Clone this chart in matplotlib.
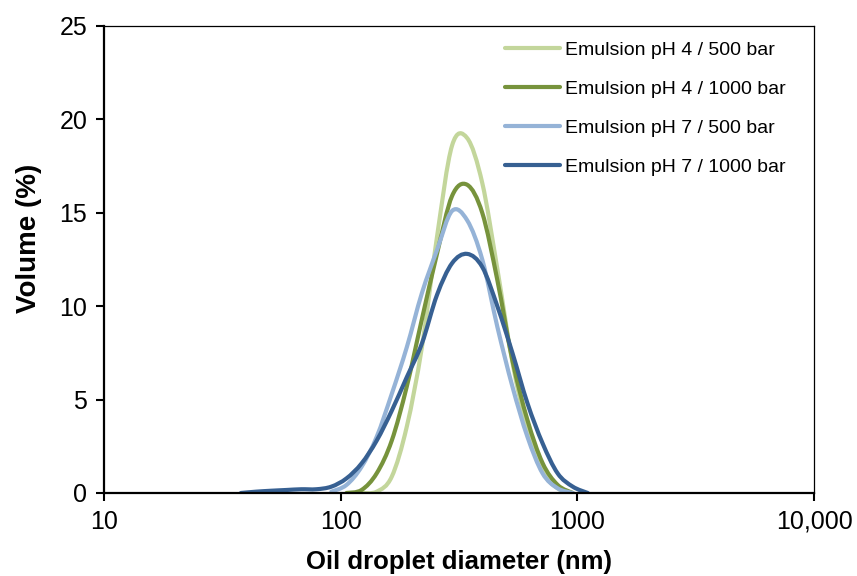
import matplotlib
matplotlib.use("Agg")
import matplotlib.pyplot as plt
import numpy as np
from matplotlib.path import Path
from matplotlib.patches import PathPatch
from matplotlib.lines import Line2D

plt.rcParams['font.family'] = ['Liberation Sans', 'DejaVu Sans']

# Zetasizer size bins (nm)
diam = [37.84, 43.82, 50.75, 58.77, 68.06, 78.82, 91.28, 105.7, 122.4, 141.8,
        164.2, 190.1, 220.2, 255.0, 295.3, 342.0, 396.1, 458.7, 531.2, 615.1,
        712.4, 825.0, 955.4, 1106]

# volume (%) per bin
ph4_500 = [None, None, None, None, None, None, None, None, 0.0, 0.07,
           0.87, 3.55, 7.8, 13.7, 18.6, 19.0, 16.6, 12.0, 7.0, 3.4,
           1.14, 0.25, 0.0, None]
ph4_1000 = [None, None, None, None, None, None, None, 0.0, 0.16, 1.05,
            2.8, 5.7, 9.3, 12.8, 15.9, 16.5, 15.0, 11.4, 7.1, 3.9,
            1.6, 0.43, 0.0, None]
ph7_500 = [None, None, None, None, None, None, 0.07, 0.43, 1.4, 3.0,
           5.3, 7.8, 10.7, 13.0, 15.1, 14.6, 12.5, 8.9, 5.7, 3.0,
           1.05, 0.25, 0.0, None]
ph7_1000 = [0.0, 0.07, 0.12, 0.16, 0.2, 0.2, 0.34, 0.78, 1.58, 2.8,
            4.4, 6.2, 8.0, 10.6, 12.3, 12.8, 12.1, 10.0, 7.5, 4.8,
            2.66, 1.05, 0.34, 0.0]

labels = ["Emulsion pH 4 / 500 bar", "Emulsion pH 4 / 1000 bar",
          "Emulsion pH 7 / 500 bar", "Emulsion pH 7 / 1000 bar"]
colors = ["#c3d69b", "#77933c", "#95b3d7", "#376092"]
series = [ph4_500, ph4_1000, ph7_500, ph7_1000]

x_ticks = [10, 100, 1000, 10000]
x_ticklabels = ["10", "100", "1000", "10,000"]
y_ticks = [0, 5, 10, 15, 20, 25]


def smoothed_path(xs, ys):
    # Excel-style smoothed line: cubic Bezier segments through the points,
    # built in log10(x) space so it looks right on the log axis
    pts = np.column_stack([np.log10(xs), ys])
    n = len(pts)
    verts = [pts[0]]
    codes = [Path.MOVETO]
    for i in range(n - 1):
        p0 = pts[max(i - 1, 0)]
        p1 = pts[i]
        p2 = pts[i + 1]
        p3 = pts[min(i + 2, n - 1)]
        verts += [p1 + (p2 - p0) / 6, p2 - (p3 - p1) / 6, p2]
        codes += [Path.CURVE4] * 3
    verts = np.array(verts)
    verts[:, 0] = 10 ** verts[:, 0]
    return Path(verts, codes)


fig = plt.figure(figsize=(8.57, 5.76), dpi=100)
ax = fig.add_axes([0.1214, 0.1441, 0.8286, 0.8108])

handles = []
for vals, lab, col in zip(series, labels, colors):
    xs = [d for d, v in zip(diam, vals) if v is not None]
    ys = [v for v in vals if v is not None]
    ax.add_patch(PathPatch(smoothed_path(xs, ys), fill=False, edgecolor=col,
                           lw=3.0, joinstyle='round', capstyle='round'))
    handles.append(Line2D([], [], color=col, lw=3.0, solid_capstyle='round'))

ax.set_xscale('log')
ax.set_xlim(10, 10000)
ax.set_ylim(0, 25)
ax.set_xticks(x_ticks)
ax.set_xticklabels(x_ticklabels)
ax.xaxis.set_minor_locator(matplotlib.ticker.NullLocator())
ax.set_yticks(y_ticks)

ax.tick_params(axis='both', direction='out', length=6, width=1.5,
               labelsize=18, pad=6)
for s in ['left', 'bottom']:
    ax.spines[s].set_linewidth(1.6)
for s in ['top', 'right']:
    ax.spines[s].set_linewidth(0.9)

ax.set_xlabel("Oil droplet diameter (nm)", fontsize=18.5, fontweight='bold', labelpad=12)
ax.set_ylabel("Volume (%)", fontsize=20, fontweight='bold')
ax.yaxis.set_label_coords(-0.088, 0.546)

ax.legend(handles, labels, loc='upper left', bbox_to_anchor=(0.554, 0.984),
          borderaxespad=0, frameon=False, fontsize=14, handlelength=2.8,
          handletextpad=0.25, labelspacing=1.1)

fig.savefig("out.png", dpi=100)
